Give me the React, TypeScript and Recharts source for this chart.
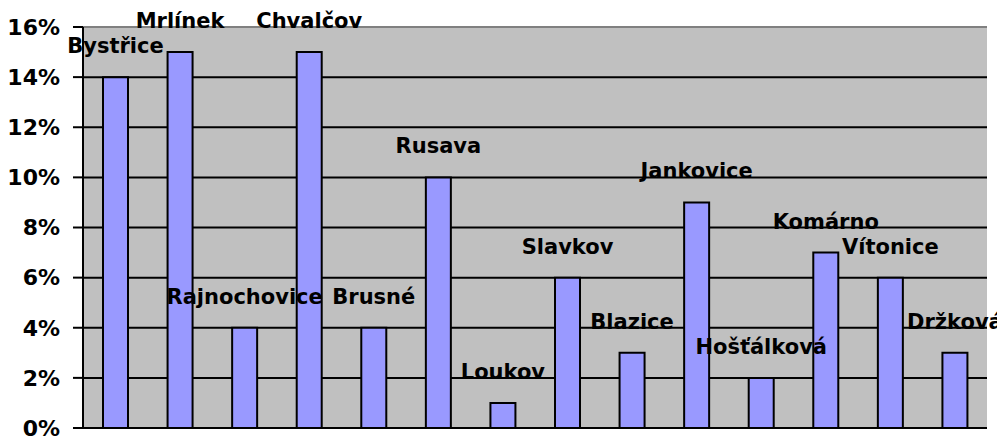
import { Bar, BarChart, CartesianGrid, LabelList, ReferenceLine, XAxis, YAxis } from "recharts";

const villages = [
  "Bystřice",
  "Mrlínek",
  "Rajnochovice",
  "Chvalčov",
  "Brusné",
  "Rusava",
  "Loukov",
  "Slavkov",
  "Blazice",
  "Jankovice",
  "Hošťálková",
  "Komárno",
  "Vítonice",
  "Držková",
];
const shares = [14, 15, 4, 15, 4, 10, 1, 6, 3, 9, 2, 7, 6, 3];
const yTicks = [0, 2, 4, 6, 8, 10, 12, 14, 16];

const data = villages.map((name, i) => ({ name, share: shares[i] }));

const font = "'DejaVu Sans', sans-serif";

export default function App() {
  return (
    <BarChart
      width={997}
      height={429}
      data={data}
      margin={{ top: 19, right: 18, bottom: 9, left: 0 }}
      barCategoryGap={0}
    >
      <CartesianGrid vertical={false} stroke="#000" strokeWidth={2} fill="#c0c0c0" fillOpacity={1} />
      <XAxis dataKey="name" tick={false} tickLine={false} height={0} axisLine={{ stroke: "#808080", strokeWidth: 2 }} />
      <YAxis
        domain={[0, 16]}
        ticks={yTicks}
        interval={0}
        width={75}
        tickSize={10}
        tickMargin={13}
        tickFormatter={(v: number) => `${v}%`}
        tick={{ fill: "#000", fontSize: 22, fontWeight: "bold", fontFamily: font }}
        axisLine={{ stroke: "#000", strokeWidth: 2 }}
        tickLine={{ stroke: "#000", strokeWidth: 2 }}
      />
      <YAxis
        yAxisId="right"
        orientation="right"
        domain={[0, 16]}
        width={0}
        tick={false}
        tickLine={false}
        axisLine={{ stroke: "#808080", strokeWidth: 2 }}
      />
      <ReferenceLine y={16} stroke="#808080" strokeWidth={2} />
      <Bar dataKey="share" fill="#9999ff" stroke="#000" strokeWidth={2} barSize={25} isAnimationActive={false}>
        <LabelList
          dataKey="name"
          position="top"
          offset={24}
          fill="#000"
          fontSize={21}
          fontWeight="bold"
          fontFamily={font}
        />
      </Bar>
    </BarChart>
  );
}
